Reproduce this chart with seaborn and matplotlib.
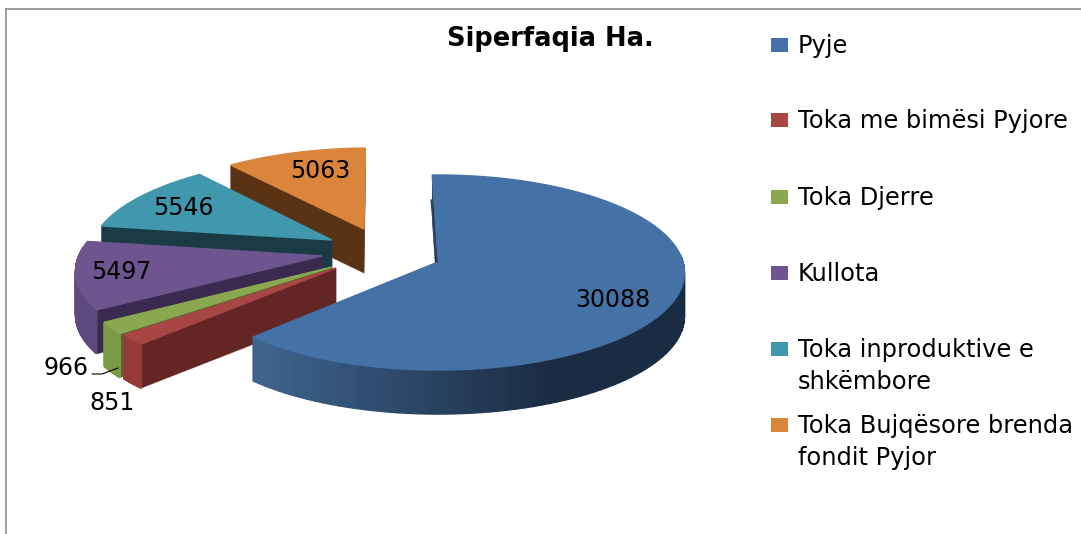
import numpy as np
import seaborn as sns
import matplotlib.pyplot as plt
from matplotlib.colors import to_rgb
from matplotlib.patches import Rectangle

# dati
categories = ["Pyje", "Toka me bimësi Pyjore", "Toka Djerre", "Kullota",
              "Toka inproduktive e\nshkëmbore", "Toka Bujqësore brenda\nfondit Pyjor"]
values = [30088, 851, 966, 5497, 5546, 5063]
title = "Siperfaqia Ha."

# stile
top_colors = ["#4471a6", "#a84644", "#8aa84f", "#6f5590", "#4097ae", "#da843c"]
side_light = ["#3f6590", "#953a38", "#7a9a47", "#5f4a80", "#1a3b46", "#5a3315"]
side_dark = ["#1a2c43", "#953a38", "#7a9a47", "#5f4a80", "#1a3b46", "#5a3315"]
cut_colors = ["#1a2c43", "#642625", "#54692f", "#3a2a50", "#1a3b46", "#5a3315"]
apex_px = [(438, 262), (336, 268), (332, 267), (322, 256), (332, 240), (364, 229)]
label_px = [(613, 300), (112, 403), (66, 368), (121, 272), (183, 208), (320, 171)]
legend_y = [45, 120, 197, 273, 349, 425]
draw_order = [5, 4, 3, 2, 1, 0]
start_angle = 91.5

# prospettiva finta come il pie 3D di Excel
cx, cy = 438, 262
a, b, k = 245, 96.4, 0.108
depth = 44


def project(x, y, z=0.0):
    den = 1 + k * y
    return cx + a * x / den, cy - b * y / den + z * depth


def unproject(px, py):
    u = (px - cx) / a
    v = (cy - py) / b
    y = v / (1 - k * v)
    return u * (1 + k * y), y


sns.set_theme(style="white")
plt.rcParams["font.family"] = ["DejaVu Sans"]

fig = plt.figure(figsize=(10.81, 5.34), dpi=100)
ax = fig.add_axes([6 / 1081, 0, 1 - 6 / 1081, 1 - 9 / 534])
ax.set_xlim(6, 1081)
ax.set_ylim(534, 9)
ax.set_xticks([])
ax.set_yticks([])

shares = np.array(values) / np.sum(values) * 360
ends = start_angle - np.cumsum(shares)
starts = ends + shares

for i in draw_order:
    x0, y0 = unproject(*apex_px[i])
    theta = np.radians(np.linspace(starts[i], ends[i], 120))
    ox = x0 + np.cos(theta)
    oy = y0 + np.sin(theta)

    # facce tagliate
    for t in (theta[0], theta[-1]):
        ex, ey = x0 + np.cos(t), y0 + np.sin(t)
        p = [project(x0, y0), project(ex, ey), project(ex, ey, 1), project(x0, y0, 1)]
        ax.fill(*zip(*p), color=cut_colors[i], lw=0.3)

    # bordo esterno con sfumatura
    c1 = np.array(to_rgb(side_light[i]))
    c2 = np.array(to_rgb(side_dark[i]))
    for j in range(len(theta) - 1):
        if oy[j] - y0 > 0.1:
            continue
        sx, _ = project(ox[j], oy[j])
        f = np.clip((sx - 254) / 300, 0, 1) if i == 0 else 0
        p = [project(ox[j], oy[j]), project(ox[j + 1], oy[j + 1]),
             project(ox[j + 1], oy[j + 1], 1), project(ox[j], oy[j], 1)]
        ax.fill(*zip(*p), color=c1 * (1 - f) + c2 * f, lw=1.0)

    if i == 0:
        # striscia scura sul lato interno della fetta grande
        p0 = project(x0, y0)
        p1 = project(ox[0], oy[0])
        ax.plot([p0[0] - 1, p1[0] - 1], [p0[1], p1[1] + 25], color="#2a4665", lw=1.2)

    top = [project(x0, y0)] + [project(u, v) for u, v in zip(ox, oy)]
    ax.fill(*zip(*top), color=top_colors[i], lw=1.0)

for val, (lx, ly) in zip(values, label_px):
    ax.text(lx, ly, str(val), ha="center", va="center", fontsize=17, color="black")
ax.plot([92, 102, 118], [374, 374, 368], color="black", lw=0.8)

ax.text(550, 39, title, ha="center", va="center", fontsize=18.5, fontweight="bold", color="black")

for name, col, ly in zip(categories, top_colors, legend_y):
    ax.add_patch(Rectangle((771, ly - 7), 17, 14, color=col, lw=0))
    ax.text(798, ly - 11, name, ha="left", va="top", fontsize=17.4, color="black",
            linespacing=1.4)

sns.despine(ax=ax, top=False, right=True, left=False, bottom=True)
for side in ("left", "top"):
    ax.spines[side].set_color("#8c8c8c")
    ax.spines[side].set_linewidth(1.2)

plt.savefig("out.png", dpi=100)
